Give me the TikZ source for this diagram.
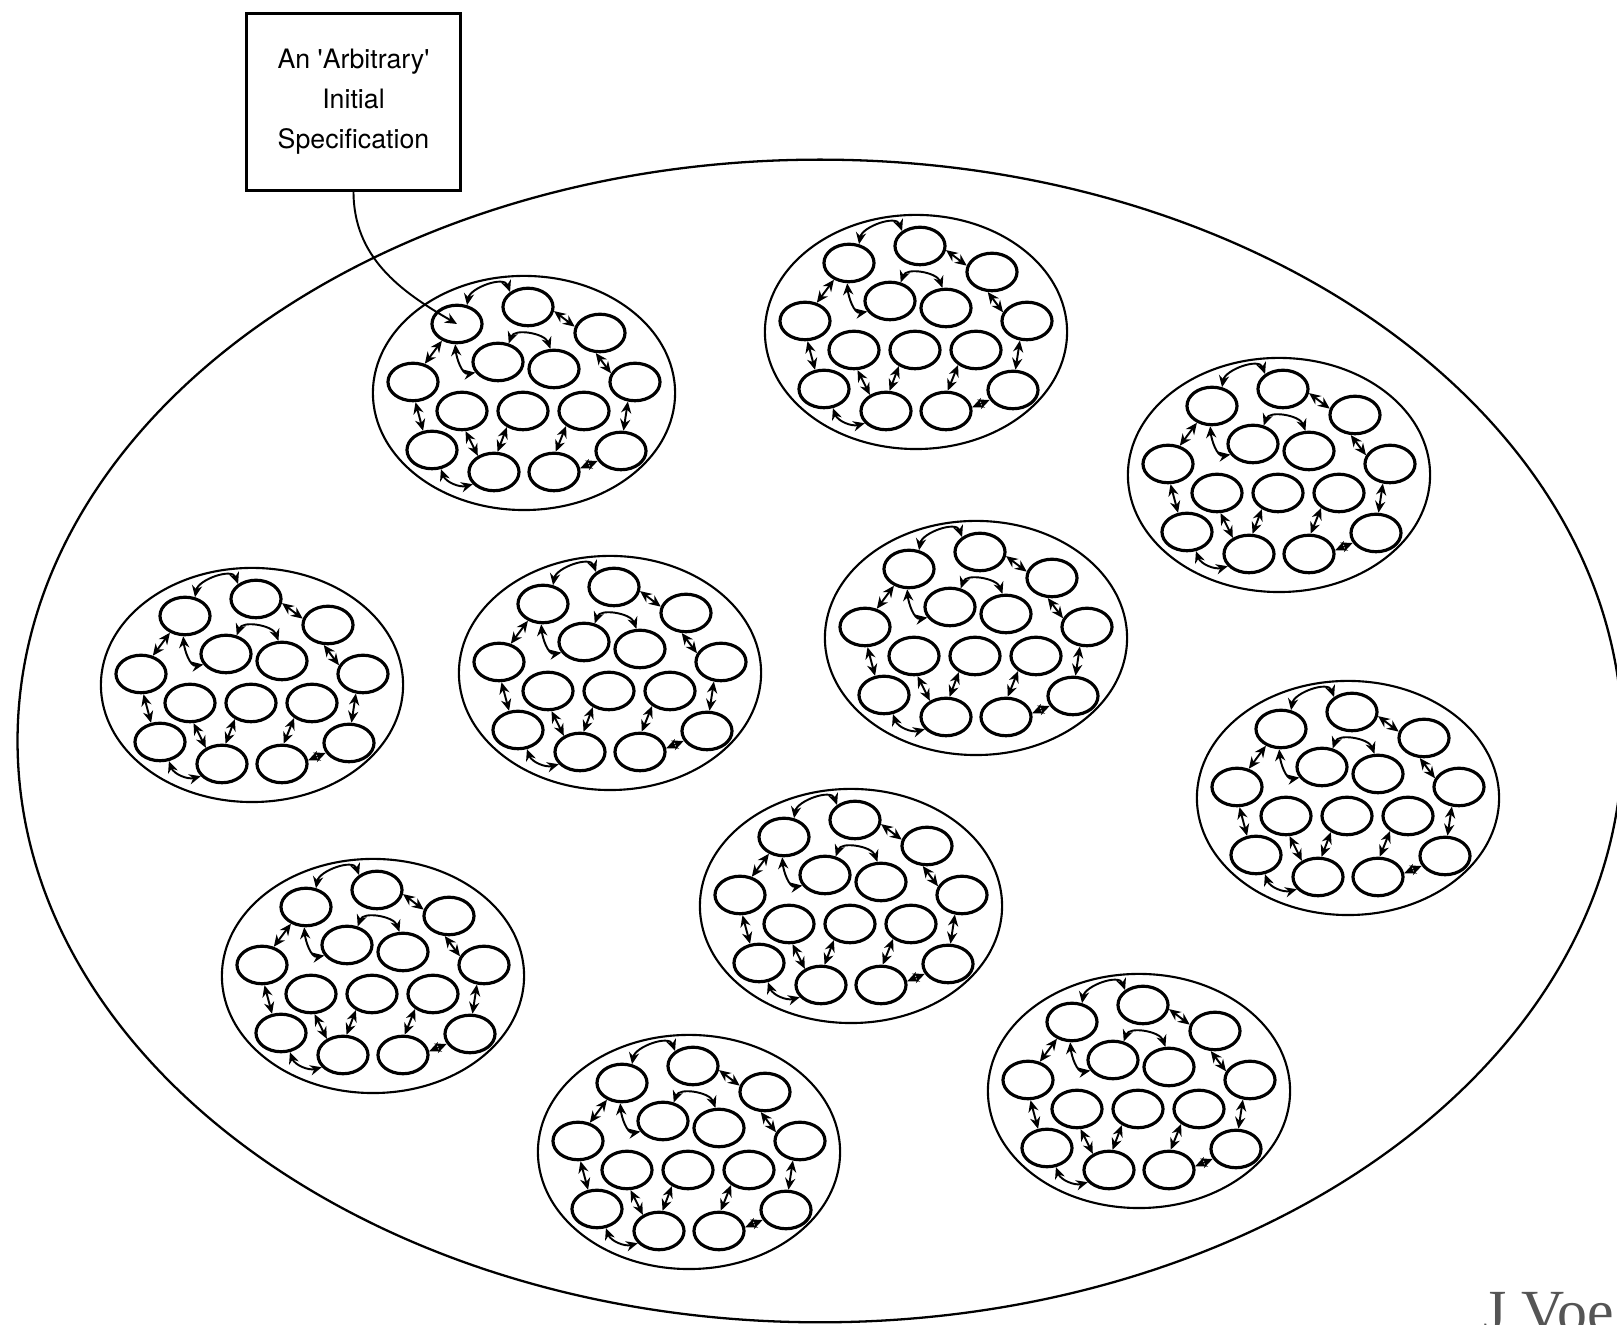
\documentclass[tikz,border=0pt]{standalone}
\usepackage{fontspec}
\usetikzlibrary{shapes.geometric,arrows.meta}
\newfontfamily\notefont{TeX Gyre Heros}
\newfontfamily\creditfont{Liberation Serif}
\definecolor{creditgray}{HTML}{555555}
\tikzset{
  world/.style={
    shape = ellipse,
    draw,
    minimum width = 16.04cm,
    minimum height = 11.62cm,
    inner sep = 0pt,
    line width = 0.65pt
  },
  family/.style={
    shape = ellipse,
    draw,
    minimum width = 3.02cm,
    minimum height = 2.34cm,
    inner sep = 0pt,
    line width = 0.6pt
  },
  spec/.style={
    shape = ellipse,
    draw,
    minimum width = 0.5cm,
    minimum height = 0.375cm,
    inner sep = 0pt,
    line width = 0.9pt
  },
  refine/.style={
    {Stealth[length=3.3pt,width=2.9pt]}-{Stealth[length=3.3pt,width=2.9pt]},
    line width = 0.55pt
  },
  notebox/.style={
    shape = rectangle,
    draw,
    line width = 0.85pt,
    minimum width = 2.13cm,
    minimum height = 1.76cm,
    align = center,
    font = \notefont\fontsize{7.6}{11.4}\selectfont
  },
  pointer/.style={
    -{Stealth[length=3.4pt,width=3pt]},
    line width = 0.55pt
  }
}
% one family of specifications: name, x, y
\newcommand\specfamily[3]{%
  \begin{scope}[shift={(#2,#3)}]
    \node[family] (#1) at (0,0) {};
    \node[spec] (#1A) at (-67,69) {};
    \node[spec] (#1B) at (4,86) {};
    \node[spec] (#1C) at (76,60) {};
    \node[spec] (#1D) at (-111,11) {};
    \node[spec] (#1E) at (-26,31) {};
    \node[spec] (#1F) at (30,24) {};
    \node[spec] (#1G) at (111,11) {};
    \node[spec] (#1H) at (-62,-18) {};
    \node[spec] (#1I) at (-1,-18) {};
    \node[spec] (#1J) at (60,-18) {};
    \node[spec] (#1K) at (-92,-57) {};
    \node[spec] (#1L) at (-30,-79) {};
    \node[spec] (#1M) at (30,-79) {};
    \node[spec] (#1N) at (97,-58) {};
    \draw[refine] (#1E.60) to[out=70,in=110] (#1F.100);
    \draw[refine] (#1A.265) to[out=-85,in=190] (#1E.205);
    \draw[refine] (#1A.62) to[out=80,in=110] (#1B.140);
    \draw[refine] (#1B.-9) -- (#1C.166);
    \draw[refine] (#1C.258) -- (#1G.160);
    \draw[refine] (#1G.250) -- (#1N.83);
    \draw[refine] (#1M.8) -- (#1N.203);
    \draw[refine] (#1M.85) -- (#1J.220);
    \draw[refine] (#1L.80) -- (#1I.225);
    \draw[refine] (#1H.280) -- (#1L.135);
    \draw[refine] (#1K.295) to[out=-70,in=195] (#1L.210);
    \draw[refine] (#1D.277) -- (#1K.115);
    \draw[refine] (#1A.228) -- (#1D.57);
  \end{scope}}

\begin{document}
\begin{tikzpicture}[x=0.01cm, y=0.01cm]
  \useasboundingbox (0,0) rectangle (1617,1325);

  \node[world] (space) at (820,584) {};

  \specfamily{c1}{524}{932}
  \specfamily{c2}{916}{993}
  \specfamily{c3}{1279}{850}
  \specfamily{c4}{252}{640}
  \specfamily{c5}{610}{652}
  \specfamily{c6}{976}{687}
  \specfamily{c7}{1348}{527}
  \specfamily{c8}{851}{419}
  \specfamily{c9}{373}{349}
  \specfamily{c10}{689}{173}
  \specfamily{c11}{1139}{234}

  \node[notebox] (initial) at (353.5,1223)
    {An \textquotesingle Arbitrary\textquotesingle\\Initial\\Specification};
  \draw[pointer] (initial.south) to[out=-90,in=150] (c1A.center);

  \node[anchor=base west, inner sep=0pt, text=creditgray,
    font=\creditfont\fontsize{17}{17}\selectfont] (credit) at (1483,-7) {J Voe};
\end{tikzpicture}
\end{document}
